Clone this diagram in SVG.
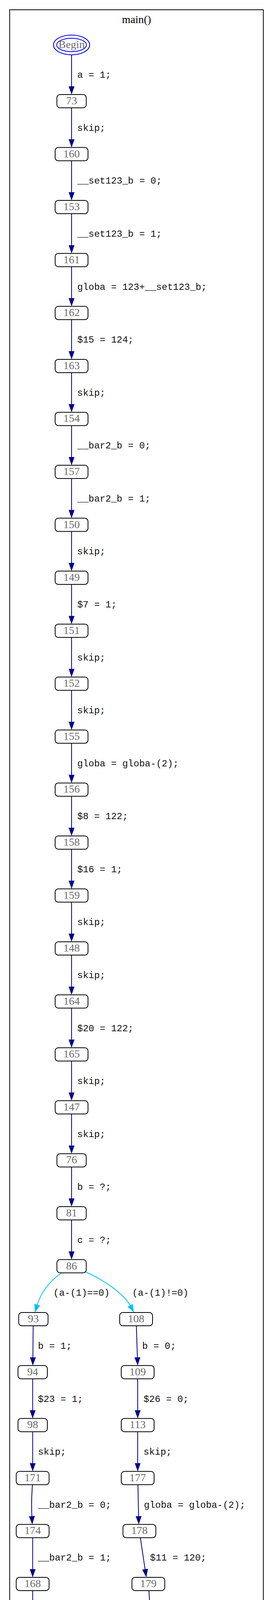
<svg xmlns="http://www.w3.org/2000/svg" width="698" height="5940" viewBox="0 0 698 5940">
<style>
.frame{fill:none;stroke:#000;stroke-width:2}
.title{font-family:"Liberation Serif","Times New Roman",serif;font-size:28px;fill:#000;text-anchor:middle}
.box{fill:#fff;stroke:#000;stroke-width:2}
.nl{font-family:"Liberation Serif","Times New Roman",serif;font-size:28px;fill:#6b6b6b;text-anchor:middle}
.e{fill:none;stroke:#00008b;stroke-width:2;marker-end:url(#ah)}
.c{fill:none;stroke:#00bfff;stroke-width:2;marker-end:url(#ahc)}
.el{font-family:"Liberation Mono","Courier New",monospace;font-size:24px;fill:#111}
.beg{fill:none;stroke:#0000dd;stroke-width:2}
.end{fill:none;stroke:#dd1111;stroke-width:2}
</style>
<defs>
<marker id="ah" markerUnits="userSpaceOnUse" viewBox="0 0 21 15" refX="0" refY="7.5" markerWidth="21" markerHeight="15" orient="auto" overflow="visible"><path d="M0,0L21,7.5L0,15z" fill="#00008b"/></marker>
<marker id="ahc" markerUnits="userSpaceOnUse" viewBox="0 0 21 15" refX="0" refY="7.5" markerWidth="21" markerHeight="15" orient="auto" overflow="visible"><path d="M0,0L21,7.5L0,15z" fill="#00bfff"/></marker>
</defs>
<rect width="698" height="5940" fill="#fff"/>
<g id="cluster">
<rect class="frame" x="24.7" y="25" width="648.6" height="5842"/>
<text class="title" x="349" y="59">main()</text>
</g>
<g id="connectors">
<path class="e" d="M183,140.4V221"/><text class="el" x="197.5" y="199.2">a = 1;</text>
<path class="e" d="M183,276V356.6"/><text class="el" x="197.5" y="334.8">skip;</text>
<path class="e" d="M183,411.6V492.1"/><text class="el" x="197.5" y="470.4">__set123_b = 0;</text>
<path class="e" d="M183,547.1V627.7"/><text class="el" x="197.5" y="605.9">__set123_b = 1;</text>
<path class="e" d="M183,682.7V763.3"/><text class="el" x="197.5" y="741.5">globa = 123+__set123_b;</text>
<path class="e" d="M183,818.3V898.9"/><text class="el" x="197.5" y="877.1">$15 = 124;</text>
<path class="e" d="M183,953.9V1034.4"/><text class="el" x="197.5" y="1012.7">skip;</text>
<path class="e" d="M183,1089.4V1170"/><text class="el" x="197.5" y="1148.2">__bar2_b = 0;</text>
<path class="e" d="M183,1225V1305.6"/><text class="el" x="197.5" y="1283.8">__bar2_b = 1;</text>
<path class="e" d="M183,1360.6V1441.1"/><text class="el" x="197.5" y="1419.4">skip;</text>
<path class="e" d="M183,1496.1V1576.7"/><text class="el" x="197.5" y="1554.9">$7 = 1;</text>
<path class="e" d="M183,1631.7V1712.3"/><text class="el" x="197.5" y="1690.5">skip;</text>
<path class="e" d="M183,1767.3V1847.8"/><text class="el" x="197.5" y="1826.1">skip;</text>
<path class="e" d="M183,1902.8V1983.4"/><text class="el" x="197.5" y="1961.6">globa = globa-(2);</text>
<path class="e" d="M183,2038.4V2119"/><text class="el" x="197.5" y="2097.2">$8 = 122;</text>
<path class="e" d="M183,2174V2254.6"/><text class="el" x="197.5" y="2232.8">$16 = 1;</text>
<path class="e" d="M183,2309.6V2390.1"/><text class="el" x="197.5" y="2368.4">skip;</text>
<path class="e" d="M183,2445.1V2525.7"/><text class="el" x="197.5" y="2503.9">skip;</text>
<path class="e" d="M183,2580.7V2661.3"/><text class="el" x="197.5" y="2639.5">$20 = 122;</text>
<path class="e" d="M183,2716.3V2796.8"/><text class="el" x="197.5" y="2775.1">skip;</text>
<path class="e" d="M183,2851.8V2932.4"/><text class="el" x="197.5" y="2910.6">skip;</text>
<path class="e" d="M183,2987.4V3068"/><text class="el" x="197.5" y="3046.2">b = ?;</text>
<path class="e" d="M183,3123V3203.5"/><text class="el" x="197.5" y="3181.8">c = ?;</text>
<path class="c" d="M158,3258.5C124.4,3280.1 104.3,3311.5 95.3,3340.1"/><text class="el" x="136.5" y="3317.3">(a-(1)==0)</text>
<path class="c" d="M219,3256C273.8,3280.3 318.1,3315.5 332.6,3341.7"/><text class="el" x="338" y="3317.3">(a-(1)!=0)</text>
<path class="e" d="M84.8,3394.1L84.1,3474.7"/><text class="el" x="97" y="3452.9">b = 1;</text>
<path class="e" d="M83.5,3529.7V3610.2"/><text class="el" x="97" y="3588.5">$23 = 1;</text>
<path class="e" d="M83.5,3665.2V3745.8"/><text class="el" x="97" y="3724">skip;</text>
<path class="e" d="M83,3800.8C80.5,3830 80.5,3860 81.5,3881.4"/><text class="el" x="97" y="3859.6">__bar2_b = 0;</text>
<path class="e" d="M83.5,3936.4V4016.9"/><text class="el" x="97" y="3995.2">__bar2_b = 1;</text>
<path class="e" d="M83.5,4071.9V4152.5"/><text class="el" x="97" y="4130.7">skip;</text>
<path class="e" d="M83.5,4207.5V4288.1"/><text class="el" x="97" y="4266.3">$7 = 1;</text>
<path class="e" d="M83.5,4343.1V4423.7"/><text class="el" x="97" y="4401.9">skip;</text>
<path class="e" d="M83.5,4478.7V4559.2"/><text class="el" x="97" y="4537.5">skip;</text>
<path class="e" d="M79.4,4614.2C74.5,4650 84.4,4684.8 97.5,4699.9"/><text class="el" x="97" y="4673">globa = globa-(2);</text>
<path class="e" d="M135.8,4749.8L136.9,4830.4"/><text class="el" x="152" y="4808.6">$8 = globa;</text>
<path class="e" d="M138,4885.4L140.1,4965.9"/><text class="el" x="156.5" y="4944.2">$24 = 1;</text>
<path class="e" d="M141.5,5020.9V5101.5"/><text class="el" x="156.5" y="5079.7">skip;</text>
<path class="e" d="M141.5,5156.5V5237.1"/><text class="el" x="156.5" y="5215.3">skip;</text>
<path class="e" d="M141.5,5292.1V5372.7"/><text class="el" x="156.5" y="5350.9">a = 2;</text>
<path class="e" d="M141.5,5427.7V5508.2"/><text class="el" x="156.5" y="5486.5">$25 = a;</text>
<path class="e" d="M141.5,5563.2V5643.8"/><text class="el" x="156.5" y="5622">a = 1;</text>
<path class="e" d="M141.5,5698.8V5779.2"/><text class="el" x="156.5" y="5757">$29 = 1;</text>
<path class="e" d="M348.6,3394.1L351.3,3474.7"/><text class="el" x="363.5" y="3452.9">b = 0;</text>
<path class="e" d="M352,3529.7V3610.2"/><text class="el" x="367" y="3588.5">$26 = 0;</text>
<path class="e" d="M352,3665.2V3745.8"/><text class="el" x="367" y="3724">skip;</text>
<path class="e" d="M352.6,3800.8L354.35,3881.4"/><text class="el" x="368" y="3859.6">globa = globa-(2);</text>
<path class="e" d="M358.8,3936.4L370.9,4017.1"/><text class="el" x="383.5" y="3995.2">$11 = 120;</text>
<path class="e" d="M380.8,4071.9L385.4,4152.5"/><text class="el" x="397.8" y="4130.7">skip;</text>
<path class="e" d="M390.6,4207.5L394.2,4354"/><text class="el" x="406.3" y="4266">a = 2;</text>
<path class="e" d="M395.5,4409L395.5,5416C395.5,5486 322.2,5523.4 203.2,5538.4"/><text class="el" x="410.3" y="4944.2">$28 = 2;</text>
</g>
<g id="node-Begin"><ellipse class="beg" cx="183" cy="115.1" rx="46.3" ry="25.3"/><ellipse class="beg" cx="183" cy="115.1" rx="38" ry="17.2"/><text class="nl" x="183" y="123.1">Begin</text></g>
<g id="node-73"><rect class="box" x="145.5" y="242" width="75" height="34" rx="8"/><text class="nl" x="183" y="267">73</text></g>
<g id="node-160"><rect class="box" x="141" y="377.6" width="84" height="34" rx="8"/><text class="nl" x="183" y="402.6">160</text></g>
<g id="node-153"><rect class="box" x="141" y="513.1" width="84" height="34" rx="8"/><text class="nl" x="183" y="538.1">153</text></g>
<g id="node-161"><rect class="box" x="141" y="648.7" width="84" height="34" rx="8"/><text class="nl" x="183" y="673.7">161</text></g>
<g id="node-162"><rect class="box" x="141" y="784.3" width="84" height="34" rx="8"/><text class="nl" x="183" y="809.3">162</text></g>
<g id="node-163"><rect class="box" x="141" y="919.9" width="84" height="34" rx="8"/><text class="nl" x="183" y="944.9">163</text></g>
<g id="node-154"><rect class="box" x="141" y="1055.4" width="84" height="34" rx="8"/><text class="nl" x="183" y="1080.4">154</text></g>
<g id="node-157"><rect class="box" x="141" y="1191" width="84" height="34" rx="8"/><text class="nl" x="183" y="1216">157</text></g>
<g id="node-150"><rect class="box" x="141" y="1326.6" width="84" height="34" rx="8"/><text class="nl" x="183" y="1351.6">150</text></g>
<g id="node-149"><rect class="box" x="141" y="1462.1" width="84" height="34" rx="8"/><text class="nl" x="183" y="1487.1">149</text></g>
<g id="node-151"><rect class="box" x="141" y="1597.7" width="84" height="34" rx="8"/><text class="nl" x="183" y="1622.7">151</text></g>
<g id="node-152"><rect class="box" x="141" y="1733.3" width="84" height="34" rx="8"/><text class="nl" x="183" y="1758.3">152</text></g>
<g id="node-155"><rect class="box" x="141" y="1868.8" width="84" height="34" rx="8"/><text class="nl" x="183" y="1893.8">155</text></g>
<g id="node-156"><rect class="box" x="141" y="2004.4" width="84" height="34" rx="8"/><text class="nl" x="183" y="2029.4">156</text></g>
<g id="node-158"><rect class="box" x="141" y="2140" width="84" height="34" rx="8"/><text class="nl" x="183" y="2165">158</text></g>
<g id="node-159"><rect class="box" x="141" y="2275.6" width="84" height="34" rx="8"/><text class="nl" x="183" y="2300.6">159</text></g>
<g id="node-148"><rect class="box" x="141" y="2411.1" width="84" height="34" rx="8"/><text class="nl" x="183" y="2436.1">148</text></g>
<g id="node-164"><rect class="box" x="141" y="2546.7" width="84" height="34" rx="8"/><text class="nl" x="183" y="2571.7">164</text></g>
<g id="node-165"><rect class="box" x="141" y="2682.3" width="84" height="34" rx="8"/><text class="nl" x="183" y="2707.3">165</text></g>
<g id="node-147"><rect class="box" x="141" y="2817.8" width="84" height="34" rx="8"/><text class="nl" x="183" y="2842.8">147</text></g>
<g id="node-76"><rect class="box" x="145.5" y="2953.4" width="75" height="34" rx="8"/><text class="nl" x="183" y="2978.4">76</text></g>
<g id="node-81"><rect class="box" x="145.5" y="3089" width="75" height="34" rx="8"/><text class="nl" x="183" y="3114">81</text></g>
<g id="node-86"><rect class="box" x="145.5" y="3224.5" width="75" height="34" rx="8"/><text class="nl" x="183" y="3249.5">86</text></g>
<g id="node-93"><rect class="box" x="47.8" y="3360.1" width="75" height="34" rx="8"/><text class="nl" x="85.3" y="3385.1">93</text></g>
<g id="node-108"><rect class="box" x="306" y="3360.1" width="84" height="34" rx="8"/><text class="nl" x="348" y="3385.1">108</text></g>
<g id="node-94"><rect class="box" x="46" y="3495.7" width="75" height="34" rx="8"/><text class="nl" x="83.5" y="3520.7">94</text></g>
<g id="node-109"><rect class="box" x="310" y="3495.7" width="84" height="34" rx="8"/><text class="nl" x="352" y="3520.7">109</text></g>
<g id="node-98"><rect class="box" x="46" y="3631.2" width="75" height="34" rx="8"/><text class="nl" x="83.5" y="3656.2">98</text></g>
<g id="node-113"><rect class="box" x="310" y="3631.2" width="84" height="34" rx="8"/><text class="nl" x="352" y="3656.2">113</text></g>
<g id="node-171"><rect class="box" x="41.5" y="3766.8" width="84" height="34" rx="8"/><text class="nl" x="83.5" y="3791.8">171</text></g>
<g id="node-177"><rect class="box" x="310" y="3766.8" width="84" height="34" rx="8"/><text class="nl" x="352" y="3791.8">177</text></g>
<g id="node-174"><rect class="box" x="41.5" y="3902.4" width="84" height="34" rx="8"/><text class="nl" x="83.5" y="3927.4">174</text></g>
<g id="node-178"><rect class="box" x="314.4" y="3902.4" width="84" height="34" rx="8"/><text class="nl" x="356.4" y="3927.4">178</text></g>
<g id="node-168"><rect class="box" x="41.5" y="4037.9" width="84" height="34" rx="8"/><text class="nl" x="83.5" y="4062.9">168</text></g>
<g id="node-179"><rect class="box" x="337.3" y="4037.9" width="84" height="34" rx="8"/><text class="nl" x="379.3" y="4062.9">179</text></g>
<g id="node-167"><rect class="box" x="41.5" y="4173.5" width="84" height="34" rx="8"/><text class="nl" x="83.5" y="4198.5">167</text></g>
<g id="node-117"><rect class="box" x="347.6" y="4173.5" width="84" height="34" rx="8"/><text class="nl" x="389.6" y="4198.5">117</text></g>
<g id="node-169"><rect class="box" x="41.5" y="4309.1" width="84" height="34" rx="8"/><text class="nl" x="83.5" y="4334.1">169</text></g>
<g id="node-118"><rect class="box" x="353.7" y="4375" width="84" height="34" rx="8"/><text class="nl" x="395.7" y="4400">118</text></g>
<g id="node-170"><rect class="box" x="41.5" y="4444.7" width="84" height="34" rx="8"/><text class="nl" x="83.5" y="4469.7">170</text></g>
<g id="node-172"><rect class="box" x="41.5" y="4580.2" width="84" height="34" rx="8"/><text class="nl" x="83.5" y="4605.2">172</text></g>
<g id="node-173"><rect class="box" x="93.5" y="4715.8" width="84" height="34" rx="8"/><text class="nl" x="135.5" y="4740.8">173</text></g>
<g id="node-175"><rect class="box" x="95.3" y="4851.4" width="84" height="34" rx="8"/><text class="nl" x="137.3" y="4876.4">175</text></g>
<g id="node-176"><rect class="box" x="99.5" y="4986.9" width="84" height="34" rx="8"/><text class="nl" x="141.5" y="5011.9">176</text></g>
<g id="node-166"><rect class="box" x="99.5" y="5122.5" width="84" height="34" rx="8"/><text class="nl" x="141.5" y="5147.5">166</text></g>
<g id="node-102"><rect class="box" x="99.5" y="5258.1" width="84" height="34" rx="8"/><text class="nl" x="141.5" y="5283.1">102</text></g>
<g id="node-103"><rect class="box" x="99.5" y="5393.7" width="84" height="34" rx="8"/><text class="nl" x="141.5" y="5418.7">103</text></g>
<g id="node-124"><rect class="box" x="99.5" y="5529.2" width="84" height="34" rx="8"/><text class="nl" x="141.5" y="5554.2">124</text></g>
<g id="node-125"><rect class="box" x="99.5" y="5664.8" width="84" height="34" rx="8"/><text class="nl" x="141.5" y="5689.8">125</text></g>
<g id="node-End"><rect class="end" x="91" y="5800.2" width="101" height="50.6" rx="15"/><rect class="end" x="99.5" y="5808.3" width="84" height="34.5" rx="9"/><text class="nl" x="141.5" y="5834">End</text></g>
<text class="title" x="349" y="5916">main()</text>
</svg>
